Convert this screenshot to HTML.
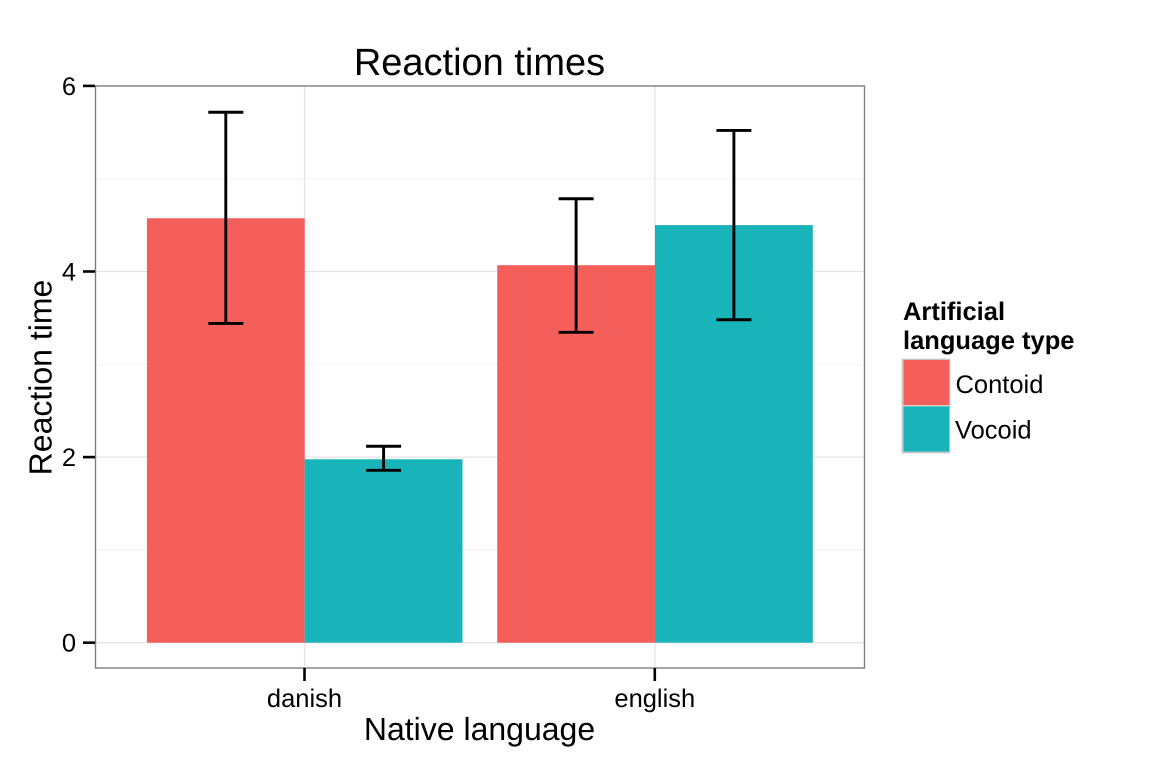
<!DOCTYPE html>
<html>
<head>
<meta charset="utf-8">
<style>
html,body{margin:0;padding:0;background:#fff;}
svg{display:block;font-family:"Liberation Sans",sans-serif;text-rendering:geometricPrecision;}
</style>
</head>
<body>
<svg id="chart" width="1152" height="768" viewBox="0 0 1152 768" xmlns="http://www.w3.org/2000/svg">
<text x="479.5" y="75" font-size="38" text-anchor="middle" fill="#000">Reaction times</text>
<text x="479.5" y="740" font-size="32" text-anchor="middle" fill="#000">Native language</text>
<text transform="translate(51.5 377.5) rotate(-90)" font-size="32" text-anchor="middle" fill="#000">Reaction time</text>
<g id="grid"></g>
<g id="bars"></g>
<g id="errs"></g>
<rect x="95.5" y="86" width="769" height="582" fill="none" stroke="#7f7f7f" stroke-width="1.4"/>
<g id="axes"></g>
<g>
<text x="903" y="320" font-size="25.5" font-weight="bold" fill="#000">Artificial</text>
<text x="903" y="349" font-size="25.5" font-weight="bold" fill="#000">language type</text>
<rect x="902.5" y="359.5" width="47" height="93" fill="#f2f2f2" stroke="#c4c4c4" stroke-width="1.6"/>
<rect x="903.5" y="360" width="45.5" height="45.3" fill="#f55f5b"/>
<rect x="903.5" y="406.3" width="45.5" height="45.3" fill="#19b4ba"/>
<text x="955.5" y="393" font-size="25.5" fill="#000">Contoid</text>
<text x="955" y="438.5" font-size="25.5" fill="#000">Vocoid</text>
</g>
</svg>
<script>
const categories = ["danish", "english"];
const seriesNames = ["Contoid", "Vocoid"];
const contoidValues = [4.574, 4.068];
const vocoidValues = [1.977, 4.5];
const contoidUpper = [5.716, 4.784];
const contoidLower = [3.44, 3.345];
const vocoidUpper = [2.117, 5.52];
const vocoidLower = [1.858, 3.48];
const yTicks = [0, 2, 4, 6];
const yMinorTicks = [1, 3, 5];

const NS = "http://www.w3.org/2000/svg";
const xCenter = i => 304.7 + i * 350.3;
const yScale = v => 642.7 - v * 92.8;
const barWidth = 157.8;
const capHalf = 17.5;

function mk(parent, tag, attrs) {
  const el = document.createElementNS(NS, tag);
  for (const k in attrs) el.setAttribute(k, attrs[k]);
  parent.appendChild(el);
  return el;
}

const grid = document.getElementById("grid");
const bars = document.getElementById("bars");
const errs = document.getElementById("errs");
const axes = document.getElementById("axes");

yMinorTicks.forEach(t => {
  const l = mk(grid, "line", {x1: 95.5, x2: 864.5, y1: yScale(t), y2: yScale(t), stroke: "#f4f4f4", "stroke-width": 1.2});
  
  
});
yTicks.forEach(t => {
  const y = yScale(t);
  const l = mk(grid, "line", {x1: 95.5, x2: 864.5, y1: y, y2: y, stroke: "#e3e3e3", "stroke-width": 1.3});
  
  
  const tick = mk(axes, "line", {x1: 83, x2: 95, y1: y, y2: y, stroke: "#000", "stroke-width": 2.6});
  
  
  const label = mk(axes, "text", {x: 76, y: y + 9, "font-size": 25.5, "text-anchor": "end", fill: "#000"});
  
  
  label.textContent = t;
});
categories.forEach((c, i) => {
  const x = xCenter(i) - 0.2;
  const l = mk(grid, "line", {x1: x, x2: x, y1: 86, y2: 668, stroke: "#e3e3e3", "stroke-width": 1.3});
  
  
  const tick = mk(axes, "line", {x1: x, x2: x, y1: 668, y2: 681, stroke: "#000", "stroke-width": 2.6});
  
  
  const label = mk(axes, "text", {x: x, y: 707, "font-size": 25.5, "text-anchor": "middle", fill: "#000"});
  
  
  label.textContent = c;
});

function drawSeries(values, upper, lower, color, side) {
  values.forEach((v, i) => {
    const x0 = side < 0 ? xCenter(i) - barWidth : xCenter(i);
    const r = mk(bars, "rect", {x: x0, y: yScale(v), width: barWidth, height: yScale(0) - yScale(v), fill: color});
    
    
    const cx = x0 + barWidth / 2;
    const yU = yScale(upper[i]);
    const yL = yScale(lower[i]);
    const p = mk(errs, "path", {
      d: "M" + (cx - capHalf) + " " + yU + "H" + (cx + capHalf) + "M" + cx + " " + yU + "V" + yL + "M" + (cx - capHalf) + " " + yL + "H" + (cx + capHalf),
      fill: "none", stroke: "#000", "stroke-width": 2.9
    });
    
    
  });
}
drawSeries(contoidValues, contoidUpper, contoidLower, "#f55f5b", -1);
drawSeries(vocoidValues, vocoidUpper, vocoidLower, "#19b4ba", 1);
</script>
</body>
</html>
